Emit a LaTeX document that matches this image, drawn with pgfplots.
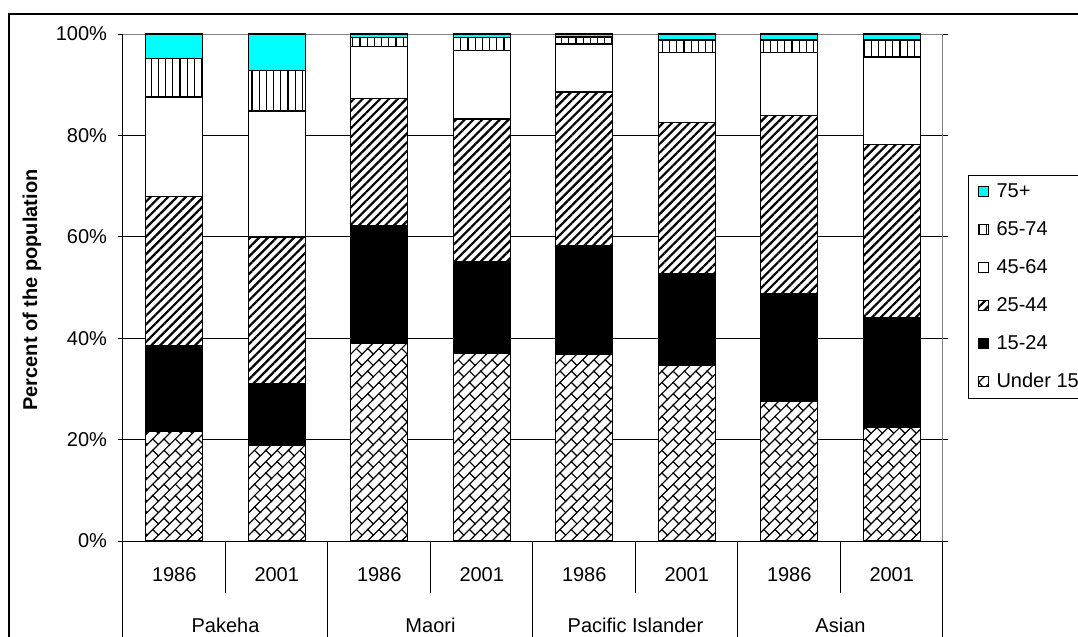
\documentclass[border=0pt]{standalone}
\usepackage{fontspec}
\setmainfont{Liberation Sans}
\usepackage{pgfplots}
\pgfplotsset{compat=1.18}
\usepackage{pgfplotstable}
\usetikzlibrary{patterns,patterns.meta}

\definecolor{xlcyan}{RGB}{0,255,255}

% diagonal brick, as in the old spreadsheet fill
\tikzdeclarepattern{
  name=dbrick,
  type=uncolored,
  bounding box={(-0.5pt,-0.5pt) and (8.5pt,8.5pt)},
  tile size={(8pt,8pt)},
  tile transformation={rotate=45},
  code={
    \draw[line width=0.6pt] (-0.5pt,0pt) -- (8.5pt,0pt);
    \draw[line width=0.6pt] (-0.5pt,4pt) -- (8.5pt,4pt);
    \draw[line width=0.6pt] (0pt,0pt) -- (0pt,4pt);
    \draw[line width=0.6pt] (4pt,4pt) -- (4pt,8pt);
  }
}

% share of each age group, %
\pgfplotstableread{
x u15  a1524 a2544 a4564 a6574 a75
0 21.7 16.8  29.5  19.6  7.6   4.8
1 18.9 12.2  28.9  24.8  8.0   7.2
2 39.0 23.2  25.1  10.2  1.8   0.7
3 37.0 18.1  28.1  13.5  2.6   0.7
4 36.8 21.4  30.4  9.4   1.4   0.6
5 34.7 18.0  29.8  13.8  2.5   1.2
6 27.5 21.3  35.1  12.4  2.5   1.2
7 22.4 21.7  34.1  17.3  3.3   1.2
}\agedata

\begin{document}
\begin{tikzpicture}
\draw[line width=1pt] (4.5pt,-7pt) rectangle (570pt,-340pt);
\begin{axis}[
  at={(61.5pt,-270.5pt)}, anchor=south west,
  scale only axis, width=410pt, height=253.5pt,
  ybar stacked, bar width=28.5pt,
  xmin=-0.5, xmax=7.5, ymin=0, ymax=100,
  xtick={0,...,7},
  xticklabels={1986,2001,1986,2001,1986,2001,1986,2001},
  x tick style={draw=none},
  xticklabel style={anchor=center, yshift=-14.5pt},
  ytick={0,20,...,100},
  yticklabels={0\%,20\%,40\%,60\%,80\%,100\%},
  yticklabel style={xshift=-2pt},
  tick align=outside, major tick length=2.5pt,
  y tick style={black, line width=0.5pt},
  ymajorgrids, grid style={black, line width=0.5pt},
  axis line style={draw=gray, line width=0.5pt},
  ylabel={\textbf{Percent of the population}},
  ylabel style={at={(axis description cs:-0.111,0.495)}, anchor=center},
  clip=false,
  reverse legend,
  legend image code/.code={\draw[#1, line width=0.5pt] (0pt,-2.5pt) rectangle (5pt,2.5pt);},
  legend style={at={(rel axis cs:1.0305,0.722)}, anchor=north west,
    draw=black, line width=0.5pt, row sep=10.5pt, column sep=4pt,
    inner xsep=4.5pt, inner ysep=4pt, cells={anchor=west},
    nodes={inner sep=0pt}},
]
\addplot[draw=black, line width=0.7pt, fill=white, postaction={pattern=dbrick}]
  table[x=x, y=u15] {\agedata};
\addlegendentry{Under 15}
\addplot[draw=black, line width=0.7pt, fill=black]
  table[x=x, y=a1524] {\agedata};
\addlegendentry{15-24}
\addplot[draw=black, line width=0.7pt, fill=white,
  postaction={pattern={Lines[angle=45, distance=3.1pt, line width=1.1pt]}}]
  table[x=x, y=a2544] {\agedata};
\addlegendentry{25-44}
\addplot[draw=black, line width=0.7pt, fill=white]
  table[x=x, y=a4564] {\agedata};
\addlegendentry{45-64}
\addplot[draw=black, line width=0.7pt, fill=white,
  postaction={pattern={Lines[angle=90, distance=3.6pt, line width=0.6pt]}}]
  table[x=x, y=a6574] {\agedata};
\addlegendentry{65-74}
\addplot[draw=black, line width=0.7pt, fill=xlcyan]
  table[x=x, y=a75] {\agedata};
\addlegendentry{75+}

% axis lines and category separators
\draw[black, line width=0.5pt] (axis cs:-0.5,0) -- (axis cs:7.5,0);
\draw[black, line width=0.5pt] (axis cs:-0.5,0) -- (axis cs:-0.5,100);
\draw[black, line width=0.5pt] (axis cs:0.5,0) -- ++(0pt,-26pt);
\draw[black, line width=0.5pt] (axis cs:2.5,0) -- ++(0pt,-26pt);
\draw[black, line width=0.5pt] (axis cs:4.5,0) -- ++(0pt,-26pt);
\draw[black, line width=0.5pt] (axis cs:6.5,0) -- ++(0pt,-26pt);
\draw[black, line width=0.5pt] (axis cs:-0.5,0) -- ++(0pt,-60pt);
\draw[black, line width=0.5pt] (axis cs:1.5,0) -- ++(0pt,-60pt);
\draw[black, line width=0.5pt] (axis cs:3.5,0) -- ++(0pt,-60pt);
\draw[black, line width=0.5pt] (axis cs:5.5,0) -- ++(0pt,-60pt);
\draw[black, line width=0.5pt] (axis cs:7.5,0) -- ++(0pt,-60pt);
\node at (axis cs:0.5,0) [yshift=-42pt] {Pakeha};
\node at (axis cs:2.5,0) [yshift=-42pt] {Maori};
\node at (axis cs:4.5,0) [yshift=-42pt] {Pacific Islander};
\node at (axis cs:6.5,0) [yshift=-42pt] {Asian};
\end{axis}
\pgfresetboundingbox
\useasboundingbox (0pt,0pt) rectangle (539pt,-318.5pt);
\end{tikzpicture}
\end{document}
